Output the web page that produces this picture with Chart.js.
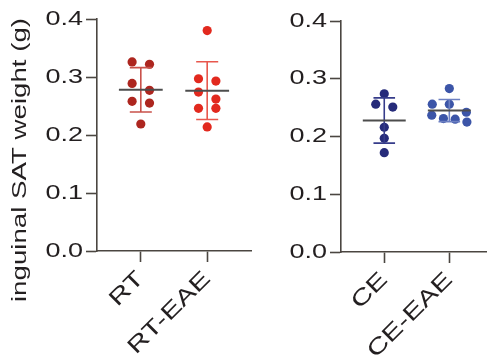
<!DOCTYPE html>
<html>
<head>
<meta charset="utf-8">
<script src="https://cdn.jsdelivr.net/npm/chart.js@4"></script>
<style>
  html, body { margin: 0; padding: 0; background: #fff; }
  #wrap { position: relative; width: 491px; height: 361px; }
  #leftChart { position: absolute; left: 0; top: 0; }
  #rightChart { position: absolute; left: 262px; top: 0; }
</style>
</head>
<body>
<div id="wrap">
  <canvas id="leftChart" width="262" height="361"></canvas>
  <canvas id="rightChart" width="229" height="361"></canvas>
</div>
<script>
// Data
const leftGroups = ['RT', 'RT-EAE'];
const rightGroups = ['CE', 'CE-EAE'];
const rtWeights = [0.326, 0.322, 0.289, 0.277, 0.258, 0.255, 0.219];
const rtEaeWeights = [0.380, 0.297, 0.293, 0.274, 0.262, 0.246, 0.246, 0.214];
const ceWeights = [0.274, 0.256, 0.251, 0.216, 0.197, 0.172];
const ceEaeWeights = [0.283, 0.256, 0.256, 0.242, 0.237, 0.231, 0.230, 0.225];
const yTicks = [0, 0.1, 0.2, 0.3, 0.4];
const yTitle = 'inguinal SAT weight (g)';

// Styles
const TEXT = '#231f20';
const AXIS = '#4b4641';
const MEAN_COLOR = '#4d4d4d';
const FONT = 'Liberation Sans, Arial, sans-serif';
const STRETCH = 1.35;          // figure text is wide
const ROW_TOL = 0.016;         // values closer than this share a row in the swarm
const STEP_MAX = 0.262;        // x units
const SWARM_SPAN = 0.54;
const MEAN_HALF = 0.33;
const CAP_HALF = 0.166;
const TITLE_POS = { x: 20, y: 160 };

/* helpers */
const mean = a => a.reduce((s, v) => s + v, 0) / a.length;
const sd = a => {
  const m = mean(a);
  return Math.sqrt(a.reduce((s, v) => s + (v - m) ** 2, 0) / (a.length - 1));
};

// simple row-based swarm, like Prism's scatter layout
function swarm(values, center) {
  const sorted = values.map((v, i) => ({ v, i })).sort((a, b) => b.v - a.v);
  const xs = new Array(values.length);
  let k = 0;
  while (k < sorted.length) {
    const row = [sorted[k]];
    let j = k + 1;
    while (j < sorted.length && sorted[k].v - sorted[j].v < ROW_TOL) row.push(sorted[j++]);
    const n = row.length;
    const step = n > 1 ? Math.min(STEP_MAX, SWARM_SPAN / (n - 1)) : 0;
    row.forEach((p, r) => { xs[p.i] = center + (r - (n - 1) / 2) * step; });
    k = j;
  }
  return values.map((v, i) => ({ x: xs[i], y: v }));
}

function groupSets(values, center, dotColor, barColor) {
  const m = mean(values), s = sd(values);
  return [
    {
      type: 'scatter', data: swarm(values, center),
      backgroundColor: dotColor, borderWidth: 0, pointRadius: 4.6, order: 3
    },
    {
      type: 'line',
      data: [
        { x: center, y: m - s }, { x: center, y: m + s }, { x: center, y: null },
        { x: center - CAP_HALF, y: m + s }, { x: center + CAP_HALF, y: m + s }, { x: center, y: null },
        { x: center - CAP_HALF, y: m - s }, { x: center + CAP_HALF, y: m - s }
      ],
      borderColor: barColor, borderWidth: 1.6, pointRadius: 0, spanGaps: false, order: 2
    },
    {
      type: 'line',
      data: [{ x: center - MEAN_HALF, y: m }, { x: center + MEAN_HALF, y: m }],
      borderColor: MEAN_COLOR, borderWidth: 2, pointRadius: 0, order: 1
    }
  ];
}

// widen every text draw along its own direction
function stretchText(ctx) {
  const fill = ctx.fillText.bind(ctx);
  const measure = ctx.measureText.bind(ctx);
  ctx.fillText = (text, x, y) => {
    ctx.save();
    ctx.translate(x, y);
    ctx.scale(STRETCH, 1);
    fill(text, 0, 0);
    ctx.restore();
  };
  ctx.measureText = text => {
    const m = measure(text);
    return { width: m.width * STRETCH };
  };
  return ctx;
}

// y title sits lower than the axis centre in the figure, so draw it by hand
const yTitlePlugin = {
  id: 'yTitle',
  afterDraw(chart) {
    const ctx = chart.ctx;
    ctx.save();
    ctx.translate(TITLE_POS.x, TITLE_POS.y);
    ctx.rotate(-Math.PI / 2);
    ctx.font = `20.5px ${FONT}`;
    ctx.fillStyle = TEXT;
    ctx.textAlign = 'center';
    ctx.textBaseline = 'middle';
    ctx.fillText(yTitle, 0, 0);
    ctx.restore();
  }
};

function xScale(groups, min, max, height) {
  return {
    type: 'linear', min, max,
    afterBuildTicks: s => { s.ticks = groups.map((g, i) => ({ value: i + 1 })); },
    afterFit: s => { s.height = height; },
    ticks: {
      callback: (v, i) => groups[i],
      autoSkip: false, minRotation: 45, maxRotation: 45,
      color: TEXT, font: { family: FONT, size: 22 }, padding: 4
    },
    grid: { drawOnChartArea: false, tickLength: 11, tickColor: AXIS, tickWidth: 1.6 },
    border: { color: AXIS, width: 1.6 }
  };
}

function yScale(width) {
  return {
    min: 0, max: 0.4,
    afterBuildTicks: s => { s.ticks = yTicks.map(v => ({ value: v })); },
    afterFit: s => { s.width = width; },
    ticks: { callback: v => v.toFixed(1), color: TEXT, font: { family: FONT, size: 20 }, padding: 3 },
    grid: { drawOnChartArea: false, tickLength: 11, tickColor: AXIS, tickWidth: 1.6 },
    border: { color: AXIS, width: 1.6 }
  };
}

function makeChart(id, datasets, groups, xMin, xMax, xHeight, yWidth, plugins, padding) {
  const ctx = stretchText(document.getElementById(id).getContext('2d'));
  return new Chart(ctx, {
    type: 'scatter',
    data: { datasets },
    plugins,
    options: {
      responsive: false,
      animation: false,
      events: [],
      layout: { padding },
      plugins: { legend: { display: false }, tooltip: { enabled: false } },
      scales: { x: xScale(groups, xMin, xMax, xHeight), y: yScale(yWidth) }
    }
  });
}

makeChart('leftChart',
  [...groupSets(rtWeights, 1, '#ad261f', '#c9524b'),
   ...groupSets(rtEaeWeights, 2, '#e2291e', '#e8574d')],
  leftGroups, 0.34, 2.66, 110, 97, [yTitlePlugin],
  { top: 19, right: 11, bottom: 0, left: 0 });

makeChart('rightChart',
  [...groupSets(ceWeights, 1, '#262b7a', '#363c8a'),
   ...groupSets(ceEaeWeights, 2, '#3c55a8', '#6d80c2')],
  rightGroups, 0.335, 2.57, 109, 79, [],
  { top: 21, right: 2, bottom: 0, left: 0 });
</script>
</body>
</html>
